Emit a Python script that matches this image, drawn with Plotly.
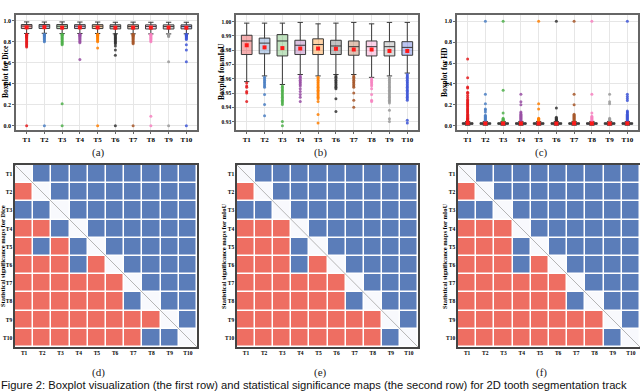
import plotly.graph_objects as go

W, H = 640, 392
labels = ["T1", "T2", "T3", "T4", "T5", "T6", "T7", "T8", "T9", "T10"]
colors = ["#E41A1C", "#4A7EC2", "#4DAF4A", "#984EA3", "#FF7F00",
          "#333333", "#A65628", "#F781BF", "#999999", "#3D55D6"]
fills = ["rgba(228,26,28,0.35)", "rgba(74,126,194,0.35)", "rgba(77,175,74,0.35)",
         "rgba(152,78,163,0.35)", "rgba(255,127,0,0.35)", "rgba(51,51,51,0.3)",
         "rgba(166,86,40,0.35)", "rgba(247,129,191,0.35)", "rgba(153,153,153,0.35)",
         "rgba(61,85,214,0.35)"]

# ---- (a) Dice box statistics ----
dice_q1 = [0.925, 0.926, 0.924, 0.925, 0.925, 0.922, 0.922, 0.921, 0.921, 0.922]
dice_med = [0.948, 0.948, 0.947, 0.947, 0.947, 0.945, 0.945, 0.945, 0.944, 0.945]
dice_q3 = [0.963, 0.963, 0.963, 0.962, 0.962, 0.961, 0.961, 0.960, 0.960, 0.960]
dice_lo = [0.878, 0.880, 0.877, 0.878, 0.878, 0.875, 0.875, 0.874, 0.874, 0.875]
dice_hi = [0.988, 0.987, 0.988, 0.987, 0.987, 0.985, 0.986, 0.985, 0.985, 0.985]
dice_mean = [0.936, 0.938, 0.934, 0.936, 0.935, 0.933, 0.934, 0.934, 0.935, 0.933]
dice_out = [
    [0.87, 0.865, 0.86, 0.855, 0.85, 0.845, 0.84, 0.83, 0.82, 0.81, 0.80, 0.79, 0.78, 0.77, 0.76, 0.75, 0.0],
    [0.87, 0.865, 0.86, 0.855, 0.85, 0.84, 0.83, 0.82, 0.81, 0.80, 0.0],
    [0.87, 0.865, 0.86, 0.85, 0.84, 0.83, 0.82, 0.81, 0.80, 0.79, 0.78, 0.77, 0.21, 0.0],
    [0.87, 0.865, 0.86, 0.855, 0.85, 0.84, 0.83, 0.82, 0.81, 0.80, 0.79, 0.63],
    [0.87, 0.865, 0.86, 0.855, 0.85, 0.84, 0.83, 0.82, 0.81, 0.80, 0.74, 0.0],
    [0.87, 0.86, 0.85, 0.84, 0.83, 0.82, 0.81, 0.80, 0.79, 0.78, 0.76, 0.72, 0.67, 0.0],
    [0.87, 0.865, 0.86, 0.855, 0.85, 0.84, 0.83, 0.82, 0.81, 0.80, 0.79, 0.78, 0.0],
    [0.87, 0.865, 0.86, 0.85, 0.84, 0.83, 0.82, 0.81, 0.80, 0.09, 0.0],
    [0.87, 0.865, 0.86, 0.855, 0.85, 0.61, 0.0],
    [0.87, 0.865, 0.86, 0.855, 0.85, 0.84, 0.83, 0.82, 0.77, 0.72, 0.61, 0.0],
]

# ---- (b) mIoU box statistics ----
miou_q1 = [0.9770, 0.9775, 0.9760, 0.9770, 0.9770, 0.9770, 0.9765, 0.9760, 0.9760, 0.9765]
miou_med = [0.9865, 0.9850, 0.9865, 0.9835, 0.9840, 0.9830, 0.9825, 0.9825, 0.9825, 0.9820]
miou_q3 = [0.9905, 0.9885, 0.9910, 0.9870, 0.9880, 0.9870, 0.9865, 0.9865, 0.9860, 0.9860]
miou_lo = [0.958, 0.962, 0.956, 0.963, 0.962, 0.963, 0.963, 0.961, 0.962, 0.964]
miou_hi = [0.9990, 0.9990, 0.9990, 0.9995, 0.9985, 0.9990, 0.9995, 0.9985, 0.9995, 0.9995]
miou_mean = [0.9835, 0.9820, 0.9815, 0.9812, 0.9812, 0.9810, 0.9805, 0.9805, 0.9795, 0.9795]
miou_out = [
    [0.957, 0.955, 0.954, 0.951, 0.950, 0.944],
    [0.961, 0.960, 0.959, 0.958, 0.957, 0.956, 0.955, 0.954, 0.949, 0.942, 0.934],
    [0.955, 0.954, 0.953, 0.952, 0.951, 0.950, 0.949, 0.948, 0.947, 0.946, 0.945, 0.944, 0.943, 0.942, 0.930, 0.927],
    [0.962, 0.961, 0.960, 0.959, 0.958, 0.957, 0.956, 0.955, 0.953, 0.951, 0.949, 0.947, 0.944],
    [0.961, 0.960, 0.959, 0.958, 0.957, 0.956, 0.955, 0.954, 0.953, 0.952, 0.951, 0.950, 0.949, 0.948, 0.947, 0.946, 0.944, 0.935, 0.929],
    [0.962, 0.961, 0.960, 0.959, 0.958, 0.957, 0.956, 0.955, 0.954, 0.953, 0.946, 0.937],
    [0.962, 0.961, 0.960, 0.959, 0.958, 0.957, 0.956, 0.955, 0.954, 0.950, 0.945, 0.940],
    [0.960, 0.959, 0.958, 0.957, 0.956, 0.955, 0.953, 0.949, 0.945, 0.944],
    [0.961, 0.960, 0.959, 0.958, 0.957, 0.956, 0.955, 0.954, 0.953, 0.952, 0.951, 0.950, 0.949, 0.948, 0.947, 0.946, 0.945, 0.944, 0.943, 0.938, 0.932, 0.930],
    [0.963, 0.962, 0.961, 0.960, 0.959, 0.958, 0.957, 0.956, 0.955, 0.954, 0.953, 0.952, 0.951, 0.950, 0.949, 0.948, 0.947, 0.946, 0.945, 0.931, 0.929],
]

# ---- (c) HD box statistics ----
hd_q1 = [0.012] * 10
hd_med = [0.020] * 10
hd_q3 = [0.028] * 10
hd_lo = [0.004] * 10
hd_hi = [0.040] * 10
hd_mean = [0.024, 0.021, 0.021, 0.021, 0.021, 0.020, 0.022, 0.021, 0.020, 0.022]
hd_out = [
    [0.045, 0.05, 0.055, 0.06, 0.065, 0.07, 0.08, 0.09, 0.10, 0.11, 0.12, 0.13, 0.14, 0.15, 0.16, 0.17, 0.18, 0.19, 0.20, 0.21, 0.22, 0.23, 0.24, 0.25, 0.27, 0.29, 0.31, 0.32, 0.36, 0.37, 0.46, 0.64],
    [0.045, 0.05, 0.06, 0.07, 0.08, 0.09, 0.10, 0.13, 0.15, 0.16, 0.21, 0.30, 1.0],
    [0.045, 0.05, 0.055, 0.06, 0.07, 0.12, 0.34, 1.0],
    [0.045, 0.05, 0.06, 0.07, 0.08, 0.09, 0.10, 0.11, 0.12, 0.13, 0.20, 0.23, 0.30],
    [0.045, 0.05, 0.055, 0.06, 0.065, 0.07, 0.16, 0.21, 1.0],
    [0.045, 0.05, 0.055, 0.06, 0.07, 0.08, 0.17, 1.0],
    [0.045, 0.05, 0.06, 0.07, 0.08, 0.09, 0.10, 0.11, 0.20, 0.30, 1.0],
    [0.045, 0.05, 0.06, 0.07, 0.08, 0.09, 0.12, 0.30, 1.0],
    [0.045, 0.05, 0.06, 0.07, 0.21, 0.23, 0.30],
    [0.045, 0.05, 0.06, 0.07, 0.08, 0.09, 0.10, 0.11, 0.12, 0.13, 0.14, 0.24, 0.26, 0.28, 0.30, 1.0],
]

# ---- significance maps: 0 = not significant (blue), 1 = significant (red), 2 = diagonal ----
sig_dice = [
    [2, 0, 0, 0, 0, 0, 0, 0, 0, 0],
    [1, 2, 0, 0, 0, 0, 0, 0, 0, 0],
    [0, 0, 2, 0, 0, 0, 0, 0, 0, 0],
    [1, 1, 0, 2, 0, 0, 0, 0, 0, 0],
    [1, 0, 1, 0, 2, 0, 0, 0, 0, 0],
    [1, 1, 1, 0, 1, 2, 0, 0, 0, 0],
    [1, 1, 1, 1, 1, 1, 2, 0, 0, 0],
    [1, 1, 1, 1, 1, 1, 0, 2, 0, 0],
    [1, 1, 1, 1, 1, 1, 1, 1, 2, 0],
    [1, 1, 1, 1, 1, 1, 1, 0, 0, 2],
]
sig_miou = [
    [2, 0, 0, 0, 0, 0, 0, 0, 0, 0],
    [1, 2, 0, 0, 0, 0, 0, 0, 0, 0],
    [0, 0, 2, 0, 0, 0, 0, 0, 0, 0],
    [1, 1, 1, 2, 0, 0, 0, 0, 0, 0],
    [1, 1, 1, 0, 2, 0, 0, 0, 0, 0],
    [1, 1, 1, 0, 1, 2, 0, 0, 0, 0],
    [1, 1, 1, 1, 1, 1, 2, 0, 0, 0],
    [1, 1, 1, 1, 1, 1, 0, 2, 0, 0],
    [1, 1, 1, 1, 1, 1, 1, 1, 2, 0],
    [1, 1, 1, 1, 1, 1, 1, 1, 0, 2],
]
sig_hd = [
    [2, 0, 0, 0, 0, 0, 0, 0, 0, 0],
    [1, 2, 0, 0, 0, 0, 0, 0, 0, 0],
    [0, 0, 2, 0, 0, 0, 0, 0, 0, 0],
    [1, 1, 1, 2, 0, 0, 0, 0, 0, 0],
    [1, 1, 1, 0, 2, 0, 0, 0, 0, 0],
    [1, 1, 1, 0, 1, 2, 0, 0, 0, 0],
    [1, 1, 1, 1, 1, 1, 2, 0, 0, 0],
    [1, 1, 1, 1, 1, 1, 0, 2, 0, 0],
    [1, 1, 1, 1, 1, 1, 1, 1, 2, 0],
    [1, 1, 1, 1, 1, 1, 1, 1, 0, 2],
]

box_titles = ["Boxplot for Dice", "Boxplot for mIoU", "Boxplot for HD"]
map_titles = ["Statistical significance maps for Dice",
              "Statistical significance maps for mIoU",
              "Statistical significance maps for mIoU"]
panel_letters = ["(a)", "(b)", "(c)", "(d)", "(e)", "(f)"]
caption = ("Figure 2: Boxplot visualization (the first row) and statistical significance "
           "maps (the second row) for 2D tooth segmentation track")

SERIF = "Liberation Serif"
RED, BLUE, DIAG = "#EE6E62", "#5B7DB9", "#F8F9FD"

fig = go.Figure()

def px_x(a, b):
    return [a / W, b / W]

def px_y(top, bot):
    return [1 - bot / H, 1 - top / H]

box_sets = [
    (dice_q1, dice_med, dice_q3, dice_lo, dice_hi, dice_mean, dice_out),
    (miou_q1, miou_med, miou_q3, miou_lo, miou_hi, miou_mean, miou_out),
    (hd_q1, hd_med, hd_q3, hd_lo, hd_hi, hd_mean, hd_out),
]
box_x = [(16, 197), (236, 418), (457, 638)]
box_y = (15, 130)
yranges = [[-0.041, 1.054], [0.9241, 1.0047], [-0.042, 1.061]]
ytickv = [[0.0, 0.2, 0.4, 0.6, 0.8, 1.0],
          [0.93, 0.94, 0.95, 0.96, 0.97, 0.98, 0.99, 1.00],
          [0.0, 0.2, 0.4, 0.6, 0.8, 1.0]]
ytickfmt = [".1f", ".2f", ".1f"]
ytick_size = [6, 5.5, 6]
box_title_x = [5, 221, 444]
map_title_x = [3, 224, 445]

layout = dict(width=W, height=H, margin=dict(l=0, r=0, t=0, b=0, autoexpand=False),
              paper_bgcolor="white", plot_bgcolor="white", showlegend=False,
              shapes=[], annotations=[])

for p, (q1, med, q3, lo, hi, mean, outs) in enumerate(box_sets):
    ax = p + 1
    xs = "x" if ax == 1 else f"x{ax}"
    ys = "y" if ax == 1 else f"y{ax}"
    for i, lab in enumerate(labels):
        fig.add_trace(go.Box(
            x=[lab], q1=[q1[i]], median=[med[i]], q3=[q3[i]],
            lowerfence=[lo[i]], upperfence=[hi[i]],
            fillcolor=fills[i], line=dict(color="#3a3a3a", width=1),
            width=0.6, whiskerwidth=0.5, boxpoints=False,
            xaxis=xs, yaxis=ys, hoverinfo="skip"))
        fig.add_trace(go.Scatter(
            x=[lab] * len(outs[i]), y=outs[i], mode="markers",
            marker=dict(color=colors[i], size=3, opacity=0.85),
            xaxis=xs, yaxis=ys, hoverinfo="skip"))
    fig.add_trace(go.Scatter(
        x=labels, y=mean, mode="markers",
        marker=dict(color="#FF1A1A", size=4, symbol="square"),
        xaxis=xs, yaxis=ys, hoverinfo="skip"))
    xk = "xaxis" if ax == 1 else f"xaxis{ax}"
    yk = "yaxis" if ax == 1 else f"yaxis{ax}"
    layout[xk] = dict(domain=px_x(*box_x[p]), anchor=ys, type="category", automargin=False,
                      categoryorder="array", categoryarray=labels, range=[-0.6, 9.6],
                      showline=True, mirror=True, linecolor="#666", linewidth=1.5,
                      showgrid=True, gridcolor="#e6e6e6", gridwidth=1,
                      ticks="outside", ticklen=2, tickcolor="#666",
                      tickfont=dict(family=SERIF, size=7, color="black", weight="bold"))
    layout[yk] = dict(domain=px_y(*box_y), anchor=xs, range=yranges[p], automargin=False,
                      tickvals=ytickv[p], tickformat=ytickfmt[p],
                      showline=True, mirror=True, linecolor="#666", linewidth=1.5,
                      showgrid=True, gridcolor="#e6e6e6", gridwidth=1, zeroline=False,
                      ticks="outside", ticklen=2, tickcolor="#666",
                      tickfont=dict(family=SERIF, size=ytick_size[p], color="black", weight="bold"))
    layout["annotations"].append(dict(
        text=box_titles[p], x=box_title_x[p] / W, y=1 - 72 / H, xref="paper", yref="paper",
        showarrow=False, textangle=-90, xanchor="center", yanchor="middle",
        font=dict(family=SERIF, size=7.5, color="black", weight="bold")))

map_sets = [sig_dice, sig_miou, sig_hd]
map_x = [(15, 197), (237, 418), (458, 640)]
map_y = (165, 347)
cscale = [[0.0, BLUE], [0.333, BLUE], [0.334, RED], [0.666, RED], [0.667, DIAG], [1.0, DIAG]]
for p, m in enumerate(map_sets):
    ax = p + 4
    xs, ys = f"x{ax}", f"y{ax}"
    fig.add_trace(go.Heatmap(
        z=m, x=list(range(10)), y=list(range(10)), zmin=0, zmax=2,
        colorscale=cscale, showscale=False, xgap=1.5, ygap=1.5,
        xaxis=xs, yaxis=ys, hoverinfo="skip"))
    layout[f"xaxis{ax}"] = dict(domain=px_x(*map_x[p]), anchor=ys, range=[-0.5, 9.5],
                                automargin=False,
                                tickvals=list(range(10)), ticktext=labels,
                                showline=True, mirror=True, linecolor="#444", linewidth=1.5,
                                showgrid=False, zeroline=False, ticks="",
                                tickfont=dict(family=SERIF, size=5.5, color="black", weight="bold"))
    layout[f"yaxis{ax}"] = dict(domain=px_y(*map_y), anchor=xs, range=[9.5, -0.5],
                                automargin=False,
                                tickvals=list(range(10)), ticktext=labels,
                                showline=True, mirror=True, linecolor="#444", linewidth=1.5,
                                showgrid=False, zeroline=False, ticks="",
                                tickfont=dict(family=SERIF, size=5.5, color="black", weight="bold"))
    layout["annotations"].append(dict(
        text=map_titles[p], x=map_title_x[p] / W, y=1 - 256 / H, xref="paper", yref="paper",
        showarrow=False, textangle=-90, xanchor="center", yanchor="middle",
        font=dict(family=SERIF, size=6.5, color="black", weight="bold")))
    layout["shapes"].append(dict(type="line", xref=xs, yref=ys, x0=-0.5, y0=-0.5, x1=9.5, y1=9.5,
                                 line=dict(color="#b5b5b5", width=1), layer="above"))

letter_pos = [(98, 152), (320, 152), (541, 152), (98, 372), (320, 372), (541, 372)]
for lt, (lx, ly) in zip(panel_letters, letter_pos):
    layout["annotations"].append(dict(text=lt, x=lx / W, y=1 - ly / H, xref="paper", yref="paper",
                                      showarrow=False, xanchor="center", yanchor="middle",
                                      font=dict(family=SERIF, size=11, color="#222")))
layout["annotations"].append(dict(text=caption, x=0, y=0, xref="paper", yref="paper",
                                  showarrow=False, xanchor="left", yanchor="bottom", borderpad=0,
                                  font=dict(family="Liberation Sans", size=11.2, color="#111")))

fig.update_layout(**layout)
fig.write_html("out.html", config={"displayModeBar": False},
               post_script="document.body.style.margin='0px';document.body.style.overflow='hidden';")
